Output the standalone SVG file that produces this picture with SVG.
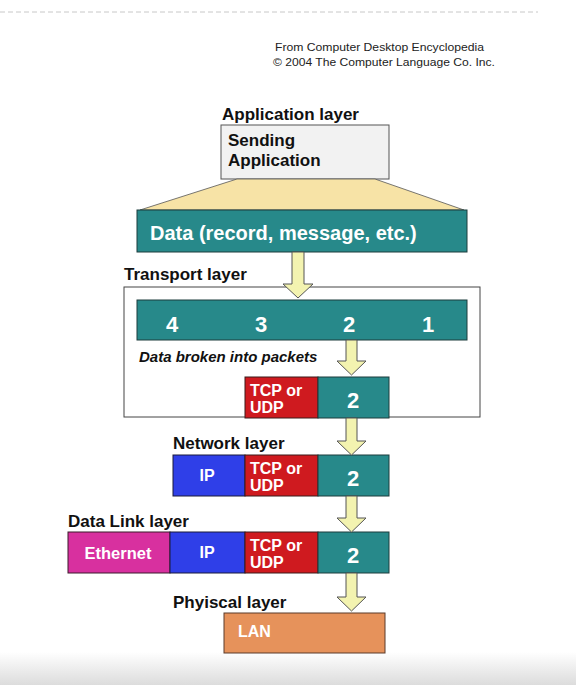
<svg xmlns="http://www.w3.org/2000/svg" width="576" height="685" viewBox="0 0 576 685">
<style>
.lbl{font-family:"Liberation Sans",Arial,sans-serif;font-weight:bold;font-size:17px;fill:#111}
.wt{font-family:"Liberation Sans",Arial,sans-serif;font-weight:bold;fill:#fff}
.cr{font-family:"Liberation Sans",Arial,sans-serif;font-size:11.5px;fill:#222}
.teal{fill:#27898a;stroke:#1d3d3d;stroke-width:1}
.red{fill:#cf1a1f;stroke:#3a1a1a;stroke-width:1}
.blue{fill:#2f3fe8;stroke:#1a1a3a;stroke-width:1}
.mag{fill:#d8309f;stroke:#3a1a2a;stroke-width:1}
.arr{fill:#f3f3b0;stroke:#555;stroke-width:1}
</style>
<defs>
<linearGradient id="bg" x1="0" y1="0" x2="0" y2="1">
<stop offset="0" stop-color="#fff"/>
<stop offset="1" stop-color="#dcdcdc"/>
</linearGradient>
</defs>
<rect x="0" y="0" width="576" height="685" fill="#fff"/>
<rect x="0" y="652" width="576" height="33" fill="url(#bg)"/>
<line x1="0" y1="12" x2="538" y2="12" stroke="#c8c8c8" stroke-width="1" stroke-dasharray="5,3"/>
<text class="cr" x="275" y="51" textLength="209" lengthAdjust="spacingAndGlyphs">From Computer Desktop Encyclopedia</text>
<text class="cr" x="273" y="66" textLength="222" lengthAdjust="spacingAndGlyphs">© 2004 The Computer Language Co. Inc.</text>

<g id="application">
<text class="lbl" x="222" y="120">Application layer</text>
<rect x="221" y="125" width="168" height="54" fill="#f2f2f2" stroke="#555" stroke-width="1"/>
<text class="lbl" x="228" y="146" font-size="16.5">Sending</text>
<text class="lbl" x="228" y="166" font-size="16.5">Application</text>
<polygon points="237,179 375,179 464,210 140,210" fill="#f7e3a6" stroke="#555" stroke-width="0.8"/>
</g>

<g id="data">
<rect class="teal" x="137" y="210" width="330" height="42"/>
<text class="wt" x="150" y="240" font-size="20">Data (record, message, etc.)</text>
</g>

<g id="transport">
<text class="lbl" x="124" y="280">Transport layer</text>
<rect x="124" y="287" width="356" height="130" fill="none" stroke="#444" stroke-width="1"/>
<rect class="teal" x="137" y="300" width="330" height="40"/>
<text class="wt" x="172" y="332" font-size="22" text-anchor="middle">4</text>
<text class="wt" x="261" y="332" font-size="22" text-anchor="middle">3</text>
<text class="wt" x="349" y="332" font-size="22" text-anchor="middle">2</text>
<text class="wt" x="428" y="332" font-size="22" text-anchor="middle">1</text>
<text x="139" y="362" font-family="Liberation Sans, Arial, sans-serif" font-weight="bold" font-style="italic" font-size="15" fill="#111">Data broken into packets</text>
<rect class="red" x="245" y="377" width="73" height="41"/>
<rect class="teal" x="318" y="377" width="71" height="41"/>
<text class="wt" x="250" y="396" font-size="16">TCP or</text>
<text class="wt" x="250" y="413" font-size="16">UDP</text>
<text class="wt" x="353" y="408" font-size="22" text-anchor="middle">2</text>
</g>

<g id="network">
<text class="lbl" x="173" y="449">Network layer</text>
<rect class="blue" x="173" y="455" width="72" height="41"/>
<rect class="red" x="245" y="455" width="73" height="41"/>
<rect class="teal" x="318" y="455" width="71" height="41"/>
<text class="wt" x="207" y="481" font-size="16" text-anchor="middle">IP</text>
<text class="wt" x="250" y="474" font-size="16">TCP or</text>
<text class="wt" x="250" y="491" font-size="16">UDP</text>
<text class="wt" x="353" y="486" font-size="22" text-anchor="middle">2</text>
</g>

<g id="datalink">
<text class="lbl" x="68" y="527">Data Link layer</text>
<rect class="mag" x="68" y="532" width="102" height="41"/>
<rect class="blue" x="170" y="532" width="75" height="41"/>
<rect class="red" x="245" y="532" width="73" height="41"/>
<rect class="teal" x="318" y="532" width="71" height="41"/>
<text class="wt" x="118" y="559" font-size="16.5" text-anchor="middle">Ethernet</text>
<text class="wt" x="207" y="558" font-size="16" text-anchor="middle">IP</text>
<text class="wt" x="250" y="551" font-size="16">TCP or</text>
<text class="wt" x="250" y="568" font-size="16">UDP</text>
<text class="wt" x="353" y="563" font-size="22" text-anchor="middle">2</text>
</g>

<g id="physical">
<text class="lbl" x="173" y="608">Phyiscal layer</text>
<rect x="224" y="613" width="161" height="40" fill="#e6925b" stroke="#5a3a2a" stroke-width="1"/>
<text class="wt" x="238" y="637" font-size="16">LAN</text>
</g>

<g id="connectors">
<polygon class="arr" points="292,252 304,252 304,284 313,284 298,298 283,284 292,284"/>
<polygon class="arr" points="346,340 357,340 357,361 366,361 351.5,375 337,361 346,361"/>
<polygon class="arr" points="346,418 357,418 357,441 366,441 351.5,455 337,441 346,441"/>
<polygon class="arr" points="346,496 357,496 357,518 366,518 351.5,532 337,518 346,518"/>
<polygon class="arr" points="346,573 357,573 357,597 366,597 351.5,611 337,597 346,597"/>
</g>
</svg>
